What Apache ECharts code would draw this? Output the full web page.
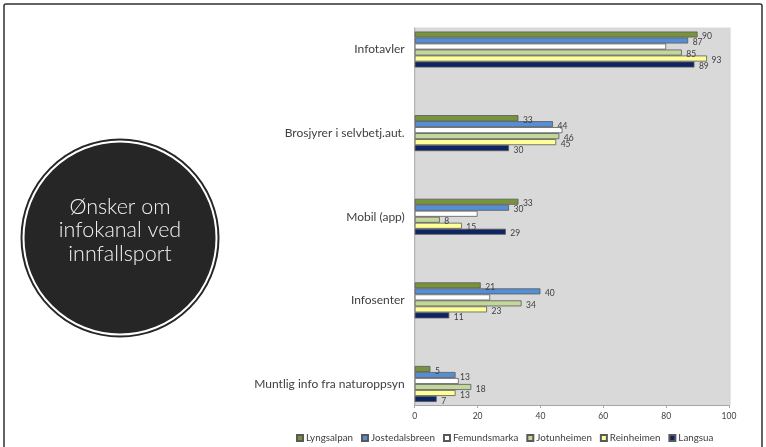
<!DOCTYPE html>
<html><head><meta charset="utf-8">
<script src="https://cdn.jsdelivr.net/npm/echarts@6/dist/echarts.min.js"></script>
<style>html,body{margin:0;padding:0;background:#fff}#c{width:766px;height:447px}</style>
</head><body><div id="c"></div>
<script>
const categories = ['Infotavler', 'Brosjyrer i selvbetj.aut.', 'Mobil (app)', 'Infosenter', 'Muntlig info fra naturoppsyn'];
const seriesNames = ['Lyngsalpan', 'Jostedalsbreen', 'Femundsmarka', 'Jotunheimen', 'Reinheimen', 'Langsua'];
const lyngsalpan = [90, 33, 33, 21, 5];
const jostedalsbreen = [87, 44, 30, 40, 13];
const femundsmarka = [80, 47, 20, 24, 14];
const jotunheimen = [85, 46, 8, 34, 18];
const reinheimen = [93, 45, 15, 23, 13];
const langsua = [89, 30, 29, 11, 7];
const xTicks = [0, 20, 40, 60, 80, 100];
const titleLines = ['Ønsker om', 'infokanal ved', 'innfallsport'];

const values = [lyngsalpan, jostedalsbreen, femundsmarka, jotunheimen, reinheimen, langsua];
const colors = ['#77933C', '#558ED5', '#FFFFFF', '#C3D69B', '#FFFF99', '#0F2463'];
const showLabel = [true, true, false, true, true, true];

const chart = echarts.init(document.getElementById('c'));
const font = 'Lato, "Liberation Sans", sans-serif';
chart.setOption({
  animation: false,
  textStyle: { fontFamily: font },
  grid: { left: 414.7, right: 37, top: 7.7, bottom: 21.2, containLabel: false },
  xAxis: {
    type: 'value', min: xTicks[0], max: xTicks[xTicks.length - 1], interval: 20,
    offset: -20.8,
    axisLine: { show: true, lineStyle: { color: '#A6A6A6', width: 1 } },
    axisTick: { show: true, length: 3, lineStyle: { color: '#A6A6A6' } },
    splitLine: { show: false },
    axisLabel: { color: '#404040', fontSize: 8.5, margin: 7, fontFamily: font }
  },
  yAxis: {
    type: 'category', data: categories, inverse: true,
    axisLine: { show: false }, axisTick: { show: false },
    axisLabel: { color: '#404040', fontSize: 12, margin: 10, fontFamily: font }
  },
  legend: {
    left: 291, top: 428, itemWidth: 6, itemHeight: 6, itemGap: 8, icon: 'rect',
    textStyle: { color: '#404040', fontSize: 9.8, fontFamily: font, padding: [0, 0, 0, -2] },
    data: seriesNames
  },
  graphic: [
    { type: 'rect', z: -10, shape: { x: 4, y: 4, width: 758, height: 460, r: 2 }, style: { fill: 'none', stroke: '#303030', lineWidth: 1.5 } },
    { type: 'rect', z: -5, shape: { x: 414.7, y: 27.5, width: 316, height: 377.5 }, style: { fill: '#D9D9D9' } },
    { type: 'line', z: -4, shape: { x1: 414.7, y1: 27.5, x2: 414.7, y2: 405 }, style: { stroke: '#A6A6A6', lineWidth: 1 } },
    { type: 'circle', z: 1, shape: { cx: 120, cy: 238, r: 99.5 }, style: { fill: '#262626' } },
    { type: 'circle', z: 2, shape: { cx: 120, cy: 238, r: 96.5 }, style: { fill: 'none', stroke: '#FFFFFF', lineWidth: 2 } },
    { type: 'text', z: 3, x: 120, y: 195, style: { text: titleLines.join('\n'), fill: '#F2F2F2', font: '300 21.5px Lato, "Liberation Sans", sans-serif', textAlign: 'center', textVerticalAlign: 'top', lineHeight: 23.5 } }
  ],
  series: seriesNames.map((n, i) => ({
    name: n, type: 'bar', data: values[i], barWidth: 6, barGap: '0%',
    itemStyle: { color: colors[i], borderColor: '#595959', borderWidth: 0.8 },
    label: { show: showLabel[i], position: 'right', distance: 4.5, color: '#404040', fontSize: 8.5, fontFamily: font, offset: [0, 2] }
  }))
});
</script></body></html>
